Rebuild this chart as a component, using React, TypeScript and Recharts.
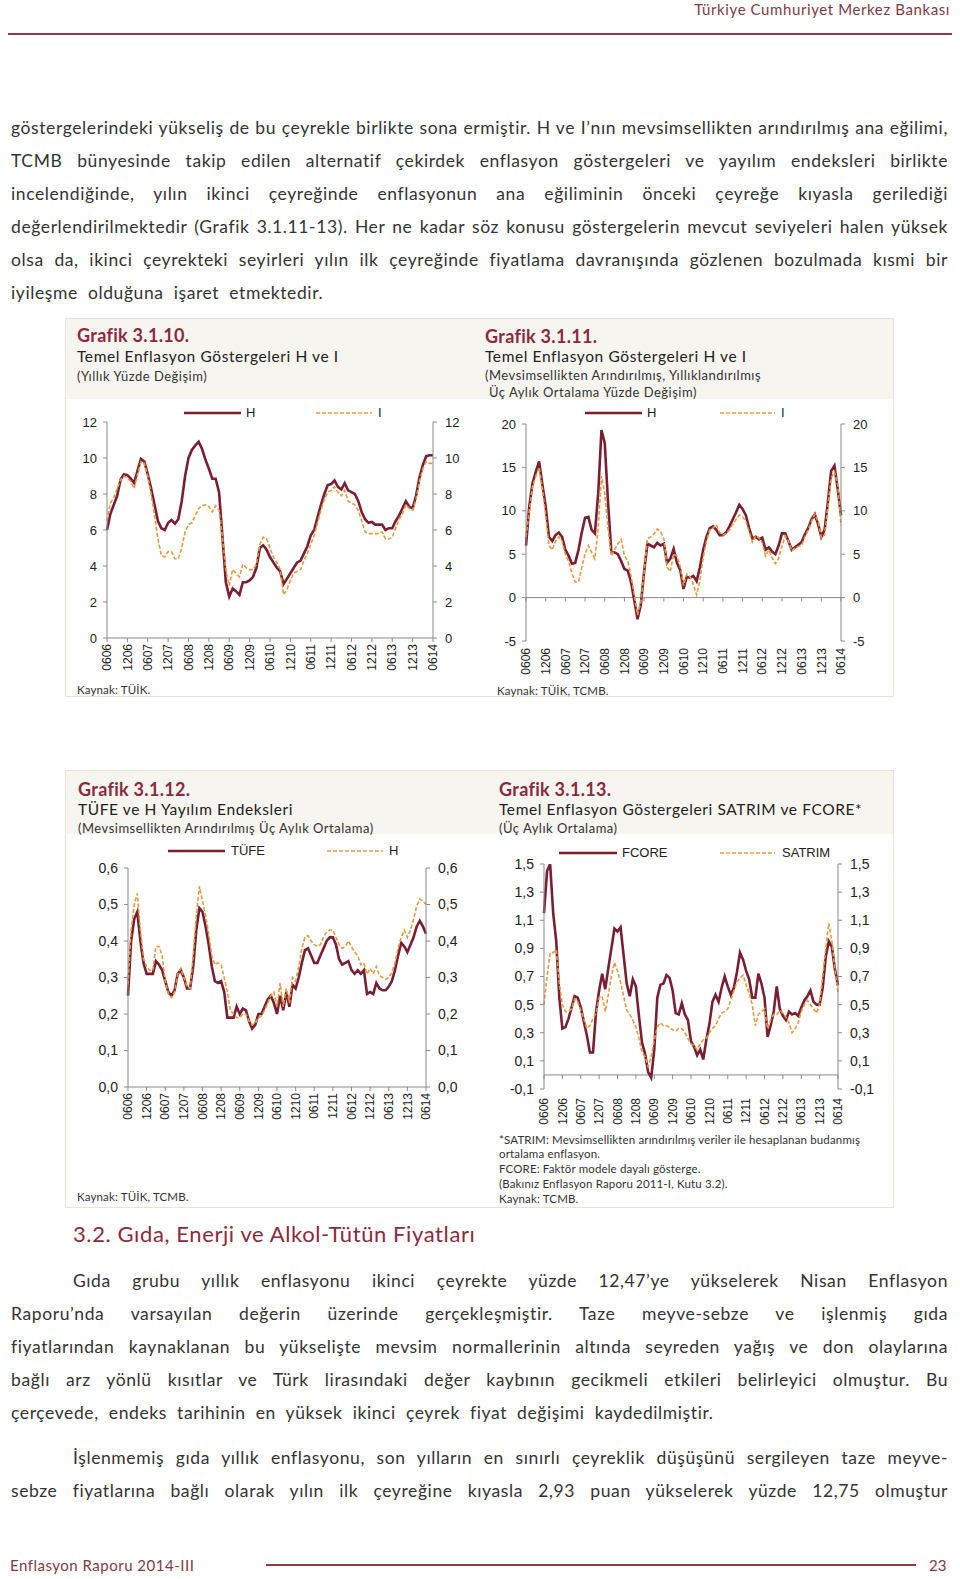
import React from 'react';
import { LineChart, Line, XAxis, YAxis, ReferenceLine } from 'recharts';

// months Jun 2006 .. Jun 2014 as MMYY
const months: string[] = [];
for (let y = 6; y <= 14; y++) {
  for (let m = 1; m <= 12; m++) {
    if ((y === 6 && m < 6) || (y === 14 && m > 6)) continue;
    months.push(String(m).padStart(2, '0') + String(y).padStart(2, '0'));
  }
}

// Grafik 3.1.10 - H ve I, yillik
const c1H = [
  6.0, 6.9, 7.4, 7.9, 8.8, 9.1, 9.05, 8.85, 8.6, 9.3, 9.95, 9.8,
  9.1, 8.3, 7.4, 6.5, 6.1, 6.0, 6.4, 6.55, 6.35, 6.6, 7.6, 9.0,
  10.0, 10.45, 10.7, 10.9, 10.5, 9.9, 9.4, 8.85, 8.85, 8.1, 5.6, 3.1,
  2.3, 2.75, 2.6, 2.4, 3.1, 3.1, 3.2, 3.4, 3.9, 5.0, 5.15, 4.9,
  4.5, 4.2, 3.9, 3.7, 3.0, 3.3, 3.6, 3.9, 4.2, 4.3, 4.7, 5.1,
  5.7, 6.0, 6.7, 7.4, 8.0, 8.5, 8.55, 8.75, 8.4, 8.25, 8.6, 8.2,
  8.1, 8.0, 7.6, 7.0, 6.6, 6.4, 6.45, 6.3, 6.3, 6.3, 6.0, 6.1,
  6.1, 6.5, 6.8, 7.2, 7.6, 7.3, 7.2, 7.9, 8.9, 9.6, 10.1, 10.15,
  10.15,
];
const c1I = [
  6.5, 7.5, 7.8, 8.3, 8.8, 9.0, 8.9, 8.7, 8.3, 9.1, 9.8, 9.7,
  9.0, 8.0, 6.8, 5.5, 4.6, 4.5, 4.8, 4.8, 4.4, 4.4, 5.0, 5.9,
  6.3, 6.4, 6.8, 7.2, 7.35, 7.4, 7.3, 7.0, 7.35, 7.1, 5.6, 3.8,
  2.9, 3.8, 3.6, 3.4, 4.1, 3.9, 3.8, 3.8, 4.1, 5.2, 5.6, 5.5,
  5.0, 4.5, 4.2, 3.8, 2.4, 2.7, 3.2, 3.6, 3.7, 3.8, 4.3, 4.7,
  5.2, 5.7, 6.4, 7.1, 7.7, 8.1, 8.2, 8.4, 8.1, 7.9, 8.2, 7.6,
  7.5, 7.4, 7.1, 6.5, 5.9, 5.8, 5.8, 5.8, 5.8, 5.9, 5.5, 5.5,
  5.6, 6.1, 6.6, 6.9, 7.4, 7.2, 7.1, 7.7, 8.7, 9.4, 9.8, 9.7,
  9.7,
];

// Grafik 3.1.11 - H ve I, mevsimsellikten arindirilmis
const c2H = [
  6.0, 10.5, 13.2, 14.5, 15.7, 13.0, 10.5, 7.0, 6.5, 7.2, 7.5, 7.0,
  5.5, 4.8, 3.9, 4.0, 5.5, 7.5, 9.2, 9.3, 7.8, 7.4, 12.0, 19.3,
  17.8, 11.0, 5.3, 5.2, 5.0, 4.2, 3.3, 3.1, 1.8, -0.3, -2.5, -0.8,
  3.0, 6.2, 6.0, 5.8, 6.3, 6.0, 6.2, 4.0, 4.5, 5.6, 4.0, 3.2,
  1.0, 2.4, 2.3, 2.5, 1.9, 3.5, 5.5, 7.0, 8.0, 8.2, 7.8, 7.2,
  7.2, 7.5, 8.2, 9.0, 9.8, 10.7, 10.2, 9.5, 8.0, 6.8, 7.0, 6.7,
  6.9, 5.5, 5.8, 5.3, 5.0, 6.0, 7.4, 7.4, 6.5, 5.5, 5.8, 6.1,
  6.4, 7.3, 8.0, 9.0, 9.6, 8.5, 7.0, 7.8, 11.0, 14.6, 15.2, 12.5,
  9.5,
];
const c2I = [
  7.0, 10.0, 12.8, 14.0, 15.0, 12.5, 9.5, 6.0, 5.5, 6.5, 7.0, 6.5,
  5.0, 4.2, 2.8, 1.8, 1.8, 3.5, 5.0, 6.0, 5.2, 4.5, 8.0, 14.0,
  12.0, 8.0, 4.8, 5.5, 6.2, 6.7, 4.8, 4.3, 2.5, 0.3, -2.0, -0.5,
  3.0, 6.8, 7.0, 7.3, 7.9, 7.6, 6.8, 3.5, 3.0, 5.0, 4.8, 3.6,
  1.4, 2.7, 2.4, 1.5, 0.3, 2.0, 4.6, 6.5, 7.8, 8.0, 8.4, 7.5,
  7.2, 7.4, 7.8, 8.4, 9.0, 9.5, 9.3, 8.8, 7.6, 6.4, 7.1, 6.9,
  6.3, 4.8, 5.5, 4.6, 3.9, 4.5, 5.9, 7.1, 6.5, 5.4, 5.7, 5.9,
  6.0, 7.0, 7.8, 8.8, 9.6, 8.8, 6.9, 7.2, 10.5, 13.8, 14.5, 13.0,
  8.3,
];

// Grafik 3.1.12 - TÜFE ve H yayilim endeksleri
const c3Tufe = [
  0.25, 0.40, 0.46, 0.48, 0.40, 0.34, 0.31, 0.31, 0.31, 0.345, 0.335, 0.32,
  0.29, 0.26, 0.25, 0.265, 0.31, 0.32, 0.30, 0.27, 0.27, 0.33, 0.43, 0.49,
  0.48, 0.44, 0.39, 0.33, 0.29, 0.285, 0.29, 0.26, 0.19, 0.19, 0.19, 0.22,
  0.20, 0.215, 0.21, 0.18, 0.16, 0.17, 0.20, 0.20, 0.22, 0.24, 0.25, 0.23,
  0.20, 0.25, 0.21, 0.26, 0.22, 0.28, 0.27, 0.30, 0.34, 0.375, 0.38, 0.36,
  0.34, 0.34, 0.36, 0.38, 0.40, 0.41, 0.41, 0.39, 0.35, 0.335, 0.34, 0.345,
  0.32, 0.31, 0.32, 0.31, 0.32, 0.255, 0.26, 0.255, 0.285, 0.27, 0.265, 0.265,
  0.275, 0.29, 0.32, 0.36, 0.395, 0.385, 0.37, 0.39, 0.41, 0.44, 0.455, 0.44,
  0.42,
];
const c3H = [
  0.28, 0.43, 0.50, 0.53, 0.43, 0.35, 0.33, 0.32, 0.32, 0.385, 0.385, 0.36,
  0.29, 0.255, 0.245, 0.26, 0.31, 0.325, 0.30, 0.275, 0.27, 0.36, 0.47, 0.55,
  0.51, 0.47, 0.42, 0.36, 0.335, 0.34, 0.335, 0.30, 0.26, 0.21, 0.20, 0.19,
  0.19, 0.20, 0.20, 0.18, 0.17, 0.175, 0.19, 0.195, 0.21, 0.23, 0.25, 0.26,
  0.22, 0.285, 0.22, 0.27, 0.23, 0.30, 0.29, 0.33, 0.38, 0.41, 0.415, 0.40,
  0.39, 0.385, 0.39, 0.41, 0.425, 0.43, 0.43, 0.41, 0.39, 0.38, 0.385, 0.40,
  0.385, 0.37, 0.36, 0.335, 0.34, 0.31, 0.325, 0.31, 0.33, 0.305, 0.30, 0.295,
  0.30, 0.315, 0.34, 0.38, 0.41, 0.43, 0.41, 0.43, 0.46, 0.495, 0.515, 0.51,
  0.50,
];

// Grafik 3.1.13 - SATRIM ve FCORE
const c4Fcore = [
  1.15, 1.45, 1.5, 1.15, 0.95, 0.55, 0.33, 0.34, 0.40, 0.48, 0.56, 0.55,
  0.48, 0.38, 0.28, 0.16, 0.16, 0.45, 0.60, 0.72, 0.61, 0.76, 0.90, 1.04,
  1.02, 1.05, 0.85, 0.65, 0.56, 0.68, 0.63, 0.42, 0.23, 0.15, 0.02, -0.02,
  0.18, 0.55, 0.64, 0.65, 0.71, 0.69, 0.60, 0.44, 0.43, 0.51, 0.43, 0.39,
  0.24, 0.20, 0.14, 0.18, 0.11, 0.25, 0.36, 0.52, 0.57, 0.52, 0.62, 0.70,
  0.63, 0.57, 0.62, 0.73, 0.87, 0.82, 0.74, 0.68, 0.55, 0.55, 0.72, 0.65,
  0.55, 0.27, 0.35, 0.45, 0.63, 0.47, 0.42, 0.39, 0.45, 0.43, 0.44, 0.42,
  0.48, 0.53, 0.56, 0.60, 0.52, 0.50, 0.50, 0.62, 0.84, 0.95, 0.91, 0.75,
  0.64,
];
const c4Satrim = [
  0.50, 0.70, 0.87, 0.87, 0.89, 0.65, 0.50, 0.45, 0.45, 0.47, 0.54, 0.52,
  0.46, 0.40, 0.33, 0.35, 0.40, 0.44, 0.55, 0.56, 0.45, 0.57, 0.70, 0.80,
  0.74, 0.66, 0.56, 0.46, 0.43, 0.39, 0.34, 0.26, 0.16, 0.13, 0.06, 0.13,
  0.25, 0.34, 0.37, 0.35, 0.35, 0.34, 0.32, 0.31, 0.33, 0.33, 0.30, 0.26,
  0.22, 0.21, 0.18, 0.22, 0.25, 0.26, 0.30, 0.33, 0.35, 0.40, 0.44, 0.45,
  0.47, 0.53, 0.60, 0.66, 0.69, 0.71, 0.64, 0.58, 0.50, 0.35, 0.43, 0.45,
  0.47, 0.33, 0.39, 0.43, 0.43, 0.46, 0.44, 0.41, 0.37, 0.30, 0.33, 0.37,
  0.45, 0.50, 0.53, 0.50, 0.47, 0.44, 0.50, 0.70, 0.90, 1.08, 0.95, 0.75,
  0.58,
];

const c1Ticks = [0, 2, 4, 6, 8, 10, 12];
const c2Ticks = [-5, 0, 5, 10, 15, 20];
const c3Ticks = [0, 0.1, 0.2, 0.3, 0.4, 0.5, 0.6];
const c4Ticks = [-0.1, 0.1, 0.3, 0.5, 0.7, 0.9, 1.1, 1.3, 1.5];

const para1 = [
  'göstergelerindeki yükseliş de bu çeyrekle birlikte sona ermiştir. H ve I’nın mevsimsellikten arındırılmış ana eğilimi,',
  'TCMB bünyesinde takip edilen alternatif çekirdek enflasyon göstergeleri ve yayılım endeksleri birlikte',
  'incelendiğinde, yılın ikinci çeyreğinde enflasyonun ana eğiliminin önceki çeyreğe kıyasla gerilediği',
  'değerlendirilmektedir (Grafik 3.1.11-13). Her ne kadar söz konusu göstergelerin mevcut seviyeleri halen yüksek',
  'olsa da, ikinci çeyrekteki seyirleri yılın ilk çeyreğinde fiyatlama davranışında gözlenen bozulmada kısmi bir',
  'iyileşme olduğuna işaret etmektedir.',
];
const para2 = [
  'Gıda grubu yıllık enflasyonu ikinci çeyrekte yüzde 12,47’ye yükselerek Nisan Enflasyon',
  'Raporu’nda varsayılan değerin üzerinde gerçekleşmiştir. Taze meyve-sebze ve işlenmiş gıda',
  'fiyatlarından kaynaklanan bu yükselişte mevsim normallerinin altında seyreden yağış ve don olaylarına',
  'bağlı arz yönlü kısıtlar ve Türk lirasındaki değer kaybının gecikmeli etkileri belirleyici olmuştur. Bu',
  'çerçevede, endeks tarihinin en yüksek ikinci çeyrek fiyat değişimi kaydedilmiştir.',
];
const para3 = [
  'İşlenmemiş gıda yıllık enflasyonu, son yılların en sınırlı çeyreklik düşüşünü sergileyen taze meyve-',
  'sebze fiyatlarına bağlı olarak yılın ilk çeyreğine kıyasla 2,93 puan yükselerek yüzde 12,75 olmuştur',
];

const MAROON = '#7a1f33';
const ORANGE = '#e39a45';
const AXIS = '#8a8a8a';
const TITLE = '#8a2a3e';
const BODY_FONT = 'Lato, "Open Sans", sans-serif';
const CHART_FONT = '"Liberation Sans", Arial, sans-serif';
const TEXT_RIGHT = 948;

const tickMonths = months.filter((_, i) => i % 6 === 0);

const RotTick = (props: any) => {
  const { x, y, payload } = props;
  return (
    <text
      x={x}
      y={y}
      transform={`rotate(-90 ${x} ${y})`}
      textAnchor="end"
      dy="0.35em"
      fontSize={12}
      fill="#222"
      fontFamily={CHART_FONT}
    >
      {payload.value}
    </text>
  );
};

type ChartProps = {
  a: number[];
  b: number[];
  left: number;
  top: number;
  width: number;
  height: number;
  marginTop: number;
  axisW: number;
  domain: [number, number];
  ticks: number[];
  digits: number;
  fontSize: number;
  zeroTick?: number;
  labelGap: number;
  rightGap: number;
};

function CoreChart(p: ChartProps) {
  const data = months.map((m, i) => ({ m, a: p.a[i], b: p.b[i] }));
  const fmt = (v: number) => v.toFixed(p.digits).replace('.', ',');
  const tickStyle = { fill: '#222', fontSize: p.fontSize, fontFamily: CHART_FONT };
  const zero = p.zeroTick !== undefined;
  return (
    <div style={{ position: 'absolute', left: p.left, top: p.top }}>
      <LineChart
        width={p.width}
        height={p.height}
        data={data}
        margin={{ top: p.marginTop, right: 0, bottom: 0, left: 0 }}
      >
        <XAxis
          dataKey="m"
          interval={5}
          height={40}
          tick={<RotTick />}
          tickSize={4}
          tickMargin={zero ? p.labelGap : 2}
          axisLine={zero ? false : { stroke: AXIS }}
          tickLine={zero ? false : { stroke: AXIS }}
        />
        <YAxis
          yAxisId="l"
          width={p.axisW}
          domain={p.domain}
          ticks={p.ticks}
          interval={0}
          allowDataOverflow
          tickFormatter={fmt}
          tick={tickStyle}
          tickSize={4}
          tickMargin={6}
          axisLine={{ stroke: AXIS }}
          tickLine={{ stroke: AXIS }}
        />
        <YAxis
          yAxisId="r"
          orientation="right"
          width={p.axisW}
          domain={p.domain}
          ticks={p.ticks}
          interval={0}
          allowDataOverflow
          tickFormatter={fmt}
          tick={tickStyle}
          tickSize={4}
          tickMargin={p.rightGap}
          axisLine={{ stroke: AXIS }}
          tickLine={{ stroke: AXIS }}
        />
        {zero && <ReferenceLine yAxisId="l" y={0} stroke={AXIS} />}
        {zero &&
          tickMonths.map((c) => (
            <ReferenceLine
              key={c}
              yAxisId="l"
              segment={[
                { x: c, y: 0 },
                { x: c, y: -(p.zeroTick as number) },
              ]}
              stroke={AXIS}
            />
          ))}
        <Line
          yAxisId="l"
          dataKey="a"
          type="linear"
          stroke={MAROON}
          strokeWidth={2.6}
          dot={false}
          isAnimationActive={false}
        />
        {/* same domain on both axes, so the second series can sit on the right one */}
        <Line
          yAxisId="r"
          dataKey="b"
          type="linear"
          stroke={ORANGE}
          strokeWidth={1.6}
          strokeDasharray="4 2"
          dot={false}
          isAnimationActive={false}
        />
      </LineChart>
    </div>
  );
}

function Legend({ y, items }: { y: number; items: { x1: number; x2: number; tx: number; label: string; dashed: boolean }[] }) {
  return (
    <>
      {items.map((it) => (
        <React.Fragment key={it.label}>
          <svg
            style={{ position: 'absolute', left: it.x1, top: y - 3 }}
            width={it.x2 - it.x1}
            height={6}
          >
            <line
              x1={0}
              y1={3}
              x2={it.x2 - it.x1}
              y2={3}
              stroke={it.dashed ? ORANGE : MAROON}
              strokeWidth={it.dashed ? 1.6 : 2.6}
              strokeDasharray={it.dashed ? '4 2' : undefined}
            />
          </svg>
          <div
            style={{
              position: 'absolute',
              left: it.tx,
              top: y - 9,
              fontSize: 13,
              lineHeight: '18px',
              fontFamily: CHART_FONT,
              color: '#222',
              whiteSpace: 'nowrap',
            }}
          >
            {it.label}
          </div>
        </React.Fragment>
      ))}
    </>
  );
}

function T({ x, y, size, children, color = '#333', bold = false, ls = 0 }: any) {
  return (
    <div
      style={{
        position: 'absolute',
        left: x,
        top: y - size * 0.7,
        fontSize: size,
        lineHeight: `${size * 1.4}px`,
        fontFamily: BODY_FONT,
        fontWeight: bold ? 700 : 400,
        letterSpacing: ls,
        color,
        whiteSpace: 'nowrap',
      }}
    >
      {children}
    </div>
  );
}

function Para({ lines, y0, indent }: { lines: string[]; y0: number; indent: boolean }) {
  return (
    <>
      {lines.map((l, i) => {
        const last = i === lines.length - 1 && !l.endsWith('olmuştur');
        const left = indent && i === 0 ? 73 : 11;
        return (
          <div
            key={i}
            style={{
              position: 'absolute',
              left,
              width: TEXT_RIGHT - left,
              top: y0 + i * 33 - 16.5,
              height: 33,
              lineHeight: '33px',
              fontSize: 17.5,
              letterSpacing: 0.6,
              wordSpacing: last ? 5 : 0,
              fontFamily: BODY_FONT,
              color: '#333',
              textAlign: last ? 'left' : 'justify',
              textAlignLast: last ? 'left' : 'justify',
            }}
          >
            {l}
          </div>
        );
      })}
    </>
  );
}

export default function App() {
  return (
    <div
      style={{
        position: 'absolute',
        left: 0,
        top: 0,
        width: 960,
        height: 1579,
        background: '#fff',
        overflow: 'hidden',
      }}
    >
      {/* header */}
      <div
        style={{
          position: 'absolute',
          right: 10,
          top: 0,
          fontSize: 15,
          lineHeight: '18px',
          letterSpacing: 0.6,
          fontFamily: BODY_FONT,
          color: '#7d3b48',
        }}
      >
        Türkiye Cumhuriyet Merkez Bankası
      </div>
      <div style={{ position: 'absolute', left: 8, top: 33, width: 944, height: 2, background: '#8c3b4b' }} />

      <Para lines={para1} y0={127} indent={false} />

      {/* row 1 panel */}
      <div
        style={{
          position: 'absolute',
          left: 65,
          top: 318,
          width: 827,
          height: 377,
          border: '1.5px solid #e8e4da',
          background: '#fff',
        }}
      >
        <div style={{ position: 'absolute', left: 0, top: 0, right: 0, height: 80, background: '#f7f5f0' }} />
      </div>
      <T x={77} y={336} size={18} bold color={TITLE} ls={0.3}>Grafik 3.1.10.</T>
      <T x={77} y={357} size={15.5} color="#222" ls={0.6}>Temel Enflasyon Göstergeleri H ve I</T>
      <T x={77} y={376} size={13} color="#333" ls={0.5}>(Yıllık Yüzde Değişim)</T>
      <T x={485} y={337} size={18} bold color={TITLE} ls={0.3}>Grafik 3.1.11.</T>
      <T x={485} y={357} size={15.5} color="#222" ls={0.6}>Temel Enflasyon Göstergeleri H ve I</T>
      <T x={485} y={375} size={13} color="#333" ls={0.5}>(Mevsimsellikten Arındırılmış, Yıllıklandırılmış</T>
      <T x={489} y={392} size={13} color="#333" ls={0.5}>Üç Aylık Ortalama Yüzde Değişim)</T>

      <CoreChart
        a={c1H}
        b={c1I}
        left={70}
        top={396}
        width={400}
        height={282}
        marginTop={26}
        axisW={37}
        domain={[0, 12]}
        ticks={c1Ticks}
        digits={0}
        fontSize={13}
        labelGap={2}
        rightGap={8}
      />
      <Legend
        y={413}
        items={[
          { x1: 184, x2: 241, tx: 246, label: 'H', dashed: false },
          { x1: 316, x2: 372, tx: 378, label: 'I', dashed: true },
        ]}
      />
      <T x={77} y={690} size={11.5} ls={0.15}>Kaynak: TÜİK.</T>

      <CoreChart
        a={c2H}
        b={c2I}
        left={490}
        top={398}
        width={387}
        height={283}
        marginTop={26}
        axisW={36}
        domain={[-5, 20]}
        ticks={c2Ticks}
        digits={0}
        fontSize={13}
        zeroTick={0.45}
        labelGap={3}
        rightGap={8}
      />
      <Legend
        y={413}
        items={[
          { x1: 585, x2: 642, tx: 647, label: 'H', dashed: false },
          { x1: 720, x2: 775, tx: 781, label: 'I', dashed: true },
        ]}
      />
      <T x={497} y={691} size={11.5} ls={0.15}>Kaynak: TÜİK, TCMB.</T>

      {/* row 2 panel */}
      <div
        style={{
          position: 'absolute',
          left: 65,
          top: 770,
          width: 827,
          height: 436,
          border: '1.5px solid #e8e4da',
          background: '#fff',
        }}
      >
        <div style={{ position: 'absolute', left: 0, top: 0, right: 0, height: 63, background: '#f7f5f0' }} />
      </div>
      <T x={78} y={790} size={18} bold color={TITLE} ls={0.3}>Grafik 3.1.12.</T>
      <T x={78} y={810} size={15.5} color="#222" ls={0.6}>TÜFE ve H Yayılım Endeksleri</T>
      <T x={78} y={828} size={13} color="#333" ls={0.5}>(Mevsimsellikten Arındırılmış Üç Aylık Ortalama)</T>
      <T x={499} y={790} size={18} bold color={TITLE} ls={0.3}>Grafik 3.1.13.</T>
      <T x={499} y={810} size={15.5} color="#222" ls={0.6}>Temel Enflasyon Göstergeleri SATRIM ve FCORE*</T>
      <T x={499} y={828} size={13} color="#333" ls={0.5}>(Üç Aylık Ortalama)</T>

      <CoreChart
        a={c3Tufe}
        b={c3H}
        left={88}
        top={841}
        width={378}
        height={286}
        marginTop={27}
        axisW={40}
        domain={[0, 0.6]}
        ticks={c3Ticks}
        digits={1}
        fontSize={14}
        labelGap={2}
        rightGap={8}
      />
      <Legend
        y={851}
        items={[
          { x1: 168, x2: 225, tx: 231, label: 'TÜFE', dashed: false },
          { x1: 327, x2: 383, tx: 389, label: 'H', dashed: true },
        ]}
      />
      <T x={77} y={1197} size={11.5} ls={0.15}>Kaynak: TÜİK, TCMB.</T>

      <CoreChart
        a={c4Fcore}
        b={c4Satrim}
        left={504}
        top={838}
        width={374}
        height={291}
        marginTop={26}
        axisW={40}
        domain={[-0.1, 1.5]}
        ticks={c4Ticks}
        digits={1}
        fontSize={14}
        zeroTick={0.03}
        labelGap={5}
        rightGap={8}
      />
      <Legend
        y={853}
        items={[
          { x1: 559, x2: 617, tx: 622, label: 'FCORE', dashed: false },
          { x1: 720, x2: 775, tx: 782, label: 'SATRIM', dashed: true },
        ]}
      />
      <T x={499} y={1140} size={11.5} ls={0.15}>*SATRIM: Mevsimsellikten arındırılmış veriler ile hesaplanan budanmış</T>
      <T x={499} y={1154} size={11.5} ls={0.15}>ortalama enflasyon.</T>
      <T x={499} y={1169} size={11.5} ls={0.15}>FCORE: Faktör modele dayalı gösterge.</T>
      <T x={499} y={1184} size={11.5} ls={0.15}>(Bakınız Enflasyon Raporu 2011-I, Kutu 3.2).</T>
      <T x={499} y={1199} size={11.5} ls={0.15}>Kaynak: TCMB.</T>

      {/* section heading */}
      <div
        style={{
          position: 'absolute',
          left: 73,
          top: 1219,
          fontSize: 22,
          lineHeight: '30px',
          letterSpacing: 0.6,
          fontFamily: BODY_FONT,
          color: TITLE,
        }}
      >
        3.2. Gıda, Enerji ve Alkol-Tütün Fiyatları
      </div>

      <Para lines={para2} y0={1280} indent />
      <Para lines={para3} y0={1457} indent />

      {/* footer */}
      <div
        style={{
          position: 'absolute',
          left: 10,
          top: 1556,
          fontSize: 15,
          lineHeight: '18px',
          letterSpacing: 0.5,
          fontFamily: BODY_FONT,
          color: '#7d3b48',
        }}
      >
        Enflasyon Raporu 2014-III
      </div>
      <div style={{ position: 'absolute', left: 266, top: 1564, width: 650, height: 2, background: '#8c3b4b' }} />
      <div
        style={{
          position: 'absolute',
          left: 929,
          top: 1556,
          fontSize: 15,
          lineHeight: '18px',
          fontFamily: BODY_FONT,
          color: '#7d3b48',
        }}
      >
        23
      </div>
    </div>
  );
}
